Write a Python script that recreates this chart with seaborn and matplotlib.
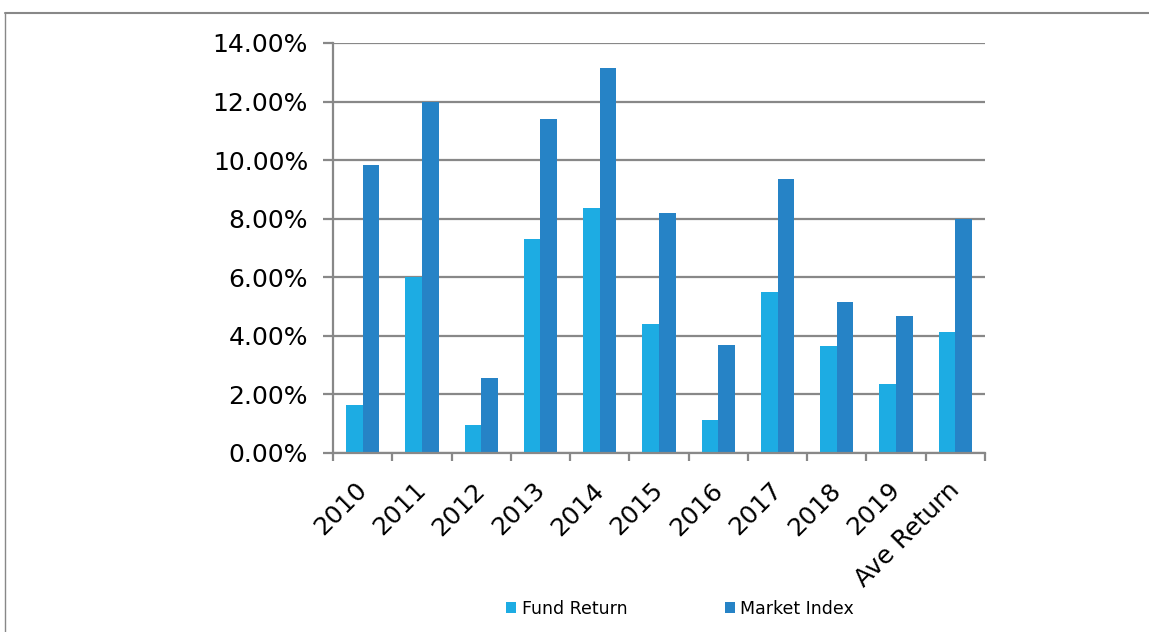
import pandas as pd
import matplotlib
matplotlib.use("Agg")
import matplotlib.pyplot as plt
import matplotlib.transforms as mtransforms
import seaborn as sns
from matplotlib.patches import Patch
from matplotlib.lines import Line2D
from matplotlib.ticker import FuncFormatter, FixedLocator

# Values (percent)
years = ['2010', '2011', '2012', '2013', '2014', '2015', '2016', '2017', '2018', '2019', 'Ave Return']
fund_return = [1.63, 6.02, 0.94, 7.31, 8.37, 4.40, 1.11, 5.51, 3.67, 2.34, 4.14]
market_index = [9.82, 11.99, 2.55, 11.41, 13.15, 8.18, 3.70, 9.34, 5.15, 4.67, 8.00]
series = ['Fund Return', 'Market Index']
colors = ['#1DACE3', '#2683C6']

df = pd.DataFrame({
    'year': years * 2,
    'value': fund_return + market_index,
    'series': [series[0]] * len(years) + [series[1]] * len(years),
})

sns.set_theme(style='white')
plt.rcParams['font.family'] = ['DejaVu Sans']

fig = plt.figure(figsize=(11.49, 6.32), dpi=100)
ax = fig.add_axes([333 / 1149, 1 - 453 / 632, (985 - 333) / 1149, (453 - 43) / 632])

sns.barplot(data=df, x='year', y='value', hue='series', palette=colors, saturation=1,
            width=0.56, linewidth=0, ax=ax, legend=False)

ax.set_ylim(0, 14)
ax.set_xlim(-0.5, len(years) - 0.5)
ax.set_yticks(range(0, 15, 2))
ax.yaxis.set_major_formatter(FuncFormatter(lambda v, p: f'{v:.2f}%'))
ax.grid(axis='y', color='#888888', linewidth=1.6)
ax.set_axisbelow(True)
ax.set_xlabel('')
ax.set_ylabel('')

for side in ['top', 'right']:
    ax.spines[side].set_visible(False)
for side in ['left', 'bottom']:
    ax.spines[side].set_color('#888888')
    ax.spines[side].set_linewidth(1.6)

ax.tick_params(axis='y', labelsize=18, length=7, width=1.6, color='#888888',
               left=True, pad=11, labelcolor='#000000')
ax.set_xticks(range(len(years)))
ax.set_xticklabels(years, rotation=45, ha='right', rotation_mode='anchor',
                   fontsize=18, color='#000000')
ax.tick_params(axis='x', which='major', length=0, pad=18)
ax.xaxis.set_minor_locator(FixedLocator([i - 0.5 for i in range(len(years) + 1)]))
ax.tick_params(axis='x', which='minor', bottom=True, length=6, width=1.6, color='#888888')

# nudge rotated labels a little to the left, as in the reference
shift = mtransforms.ScaledTranslation(-8 / 100, 0, fig.dpi_scale_trans)
for lbl in ax.get_xticklabels():
    lbl.set_transform(lbl.get_transform() + shift)

handles = [Patch(facecolor=c, edgecolor='none') for c in colors]
fig.legend(handles, series, loc='center', bbox_to_anchor=(680 / 1149, 1 - 609 / 632),
           ncol=2, frameon=False, fontsize=12.5, handlelength=0.6, handleheight=0.6,
           handletextpad=0.3, columnspacing=5.6, labelcolor='#000000')

# outer chart frame
fig.add_artist(Line2D([5 / 1149, 1], [1 - 13 / 632, 1 - 13 / 632], color='#888888', linewidth=1.5))
fig.add_artist(Line2D([5 / 1149, 5 / 1149], [0, 1 - 13 / 632], color='#888888', linewidth=1.0))

fig.savefig('out.png', dpi=100)
